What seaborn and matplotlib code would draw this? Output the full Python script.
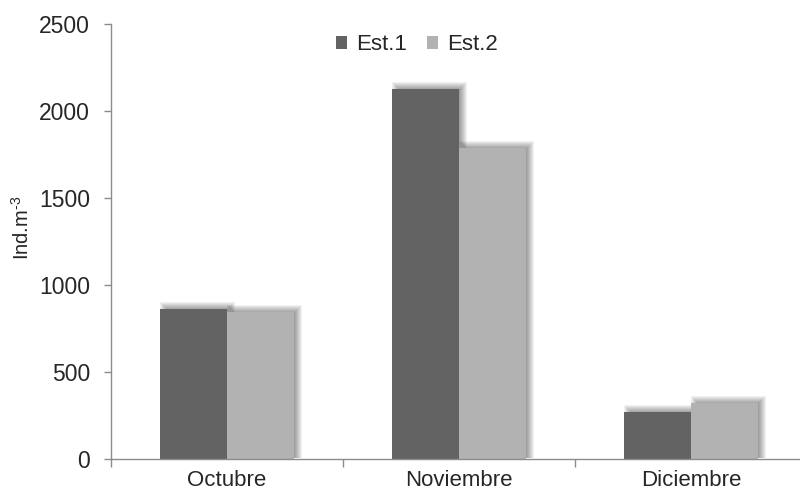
import matplotlib
matplotlib.use("Agg")
import matplotlib.pyplot as plt
import seaborn as sns
import pandas as pd
from matplotlib.patches import Rectangle, Patch

# Monthly abundance per station (ind. per cubic metre)
months = ["Octubre", "Noviembre", "Diciembre"]
stations = ["Est.1", "Est.2"]
est1 = [860, 2125, 268]
est2 = [845, 1785, 318]
colors = {"Est.1": "#636363", "Est.2": "#b2b2b2"}

df = pd.DataFrame({
    "mes": months * 2,
    "estacion": ["Est.1"] * 3 + ["Est.2"] * 3,
    "valor": est1 + est2,
})

sns.set_style("white")
plt.rcParams["font.family"] = ["Liberation Sans", "DejaVu Sans"]
plt.rcParams["mathtext.default"] = "regular"

W, H = 800, 495
fig = plt.figure(figsize=(W / 100, H / 100), dpi=100)
ax_left, ax_right = 111, 807
ax_top, ax_bot = 24, 458.5
ax = fig.add_axes([ax_left / W, (H - ax_bot) / H,
                   (ax_right - ax_left) / W, (ax_bot - ax_top) / H])

sns.barplot(data=df, x="mes", y="valor", hue="estacion", order=months,
            hue_order=stations, palette=colors, width=0.575, saturation=1,
            linewidth=0, edgecolor="none", errorbar=None, zorder=3,
            legend=False, ax=ax)

ax.set_xlim(-0.5, 2.5)
ax.set_ylim(0, 2500)

# soft drop shadow behind each bar (stacked translucent layers)
px_x = 3.0 / (ax_right - ax_left)
px_y = 2500.0 / (ax_bot - ax_top)
bars = list(ax.patches)
for b in bars:
    x, y, w, h = b.get_x(), b.get_y(), b.get_width(), b.get_height()
    for s in [-3, -2, -1, 0, 1, 2, 3, 4]:
        r = Rectangle((x + (4 - s) * px_x, y + 0.5 * px_y),
                      w + 2 * s * px_x, h + (2.5 + s) * px_y,
                      facecolor="black", edgecolor="none", alpha=0.055,
                      zorder=2)
        ax.add_patch(r)

# axes styling
for side in ["top", "right"]:
    ax.spines[side].set_visible(False)
for side in ["left", "bottom"]:
    ax.spines[side].set_color("#8c8c8c")
    ax.spines[side].set_linewidth(1.0)
ax.spines["bottom"].set_zorder(5)

ax.set_yticks([0, 500, 1000, 1500, 2000, 2500])
ax.tick_params(axis="y", direction="out", length=5, width=1,
               color="#8c8c8c", labelsize=16.5, pad=10, left=True)
ax.set_xticks([0, 1, 2])
ax.set_xticklabels(months)
ax.tick_params(axis="x", which="major", length=0, labelsize=16, pad=8)
ax.set_xticks([-0.5, 0.5, 1.5, 2.5], minor=True)
ax.tick_params(axis="x", which="minor", direction="out", length=6, width=1,
               color="#8c8c8c", bottom=True)

ax.set_xlabel("")
ax.set_ylabel("Ind.m$^{\u2010 3}$", fontsize=14.5)
ax.yaxis.set_label_coords(-0.113, 0.53)

handles = [Patch(facecolor=colors[s], edgecolor="none", label=s) for s in stations]
fig.legend(handles=handles, loc="center", bbox_to_anchor=(0.521, 1 - 45 / H),
           ncol=2, frameon=False, fontsize=16, handlelength=0.5,
           handleheight=0.5, handletextpad=0.4, columnspacing=0.9)

fig.savefig("out.png", dpi=100)
